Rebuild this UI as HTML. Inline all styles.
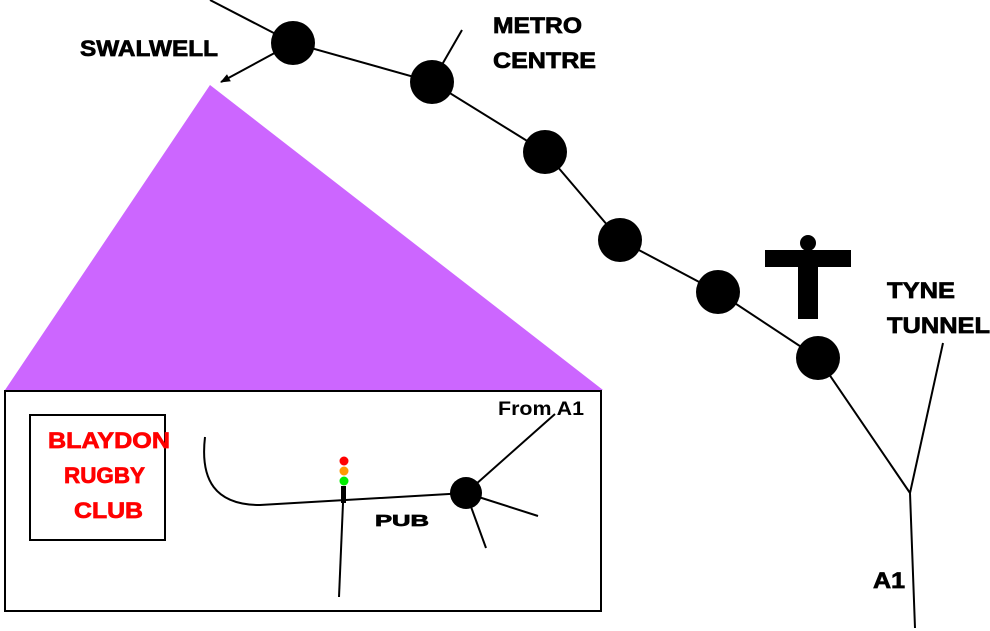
<!DOCTYPE html>
<html><head><style>body{margin:0;background:#fff}svg{display:block}text{font-family:"Liberation Sans",sans-serif;font-weight:bold}</style></head><body>
<svg width="990" height="631" viewBox="0 0 990 631">
<defs><marker id="a" markerWidth="10" markerHeight="8" refX="9" refY="4" orient="auto" markerUnits="userSpaceOnUse"><path d="M0,0L10,4L0,8z" fill="#000"/></marker></defs>
<polygon points="210,85 5,390 603,390" fill="#cc66ff"/>
<g stroke="#000" stroke-width="2" fill="none">
<polyline points="210,0 293,43 432,82 545,152 620,240 718,292 818,358 910,493 915,628"/>
<line x1="910" y1="493" x2="943" y2="343"/>
<line x1="432" y1="82" x2="462" y2="30"/>
<line x1="293" y1="43" x2="221" y2="82" marker-end="url(#a)"/>
<rect x="5" y="391" width="596" height="220"/>
<rect x="30" y="415" width="135" height="125"/>
<path d="M205,437 C200,480 215,505 260,505 L466,493"/>
<line x1="343" y1="503" x2="339" y2="597"/>
<line x1="466" y1="493" x2="555" y2="414"/>
<line x1="466" y1="493" x2="538" y2="516"/>
<line x1="466" y1="493" x2="486" y2="548"/>
</g>
<g fill="#000">
<circle cx="293" cy="43" r="22"/><circle cx="432" cy="82" r="22"/><circle cx="545" cy="152" r="22"/>
<circle cx="620" cy="240" r="22"/><circle cx="718" cy="292" r="22"/><circle cx="818" cy="358" r="22"/>
<circle cx="466" cy="493" r="16"/>
<rect x="765" y="250" width="86" height="17"/><rect x="798" y="266" width="20" height="53"/><circle cx="808" cy="243" r="8"/>
<rect x="341" y="486" width="5" height="17"/>
</g>
<circle cx="344" cy="461" r="4.5" fill="#f00"/><circle cx="344" cy="471" r="4.5" fill="#f90"/><circle cx="344" cy="481" r="4.5" fill="#0e0"/>
<g font-size="22" fill="#000" stroke="#000" stroke-width="0.7">
<text x="80" y="56" textLength="138" lengthAdjust="spacingAndGlyphs">SWALWELL</text>
<text x="493" y="33" textLength="89" lengthAdjust="spacingAndGlyphs">METRO</text><text x="493" y="68" textLength="103" lengthAdjust="spacingAndGlyphs">CENTRE</text>
<text x="887" y="298" textLength="68" lengthAdjust="spacingAndGlyphs">TYNE</text><text x="887" y="333" textLength="103" lengthAdjust="spacingAndGlyphs">TUNNEL</text>
<text x="873" y="588" textLength="32" lengthAdjust="spacingAndGlyphs">A1</text>
<text x="375" y="526" font-size="16" textLength="54" lengthAdjust="spacingAndGlyphs">PUB</text>
</g>
<text x="498" y="415" font-size="19" fill="#000" textLength="86" lengthAdjust="spacingAndGlyphs">From A1</text>
<g font-size="22" fill="#f00" stroke="#f00" stroke-width="0.7">
<text x="48" y="448" textLength="122" lengthAdjust="spacingAndGlyphs">BLAYDON</text><text x="64" y="483" textLength="81" lengthAdjust="spacingAndGlyphs">RUGBY</text><text x="74" y="518" textLength="69" lengthAdjust="spacingAndGlyphs">CLUB</text>
</g>
</svg>
</body></html>
